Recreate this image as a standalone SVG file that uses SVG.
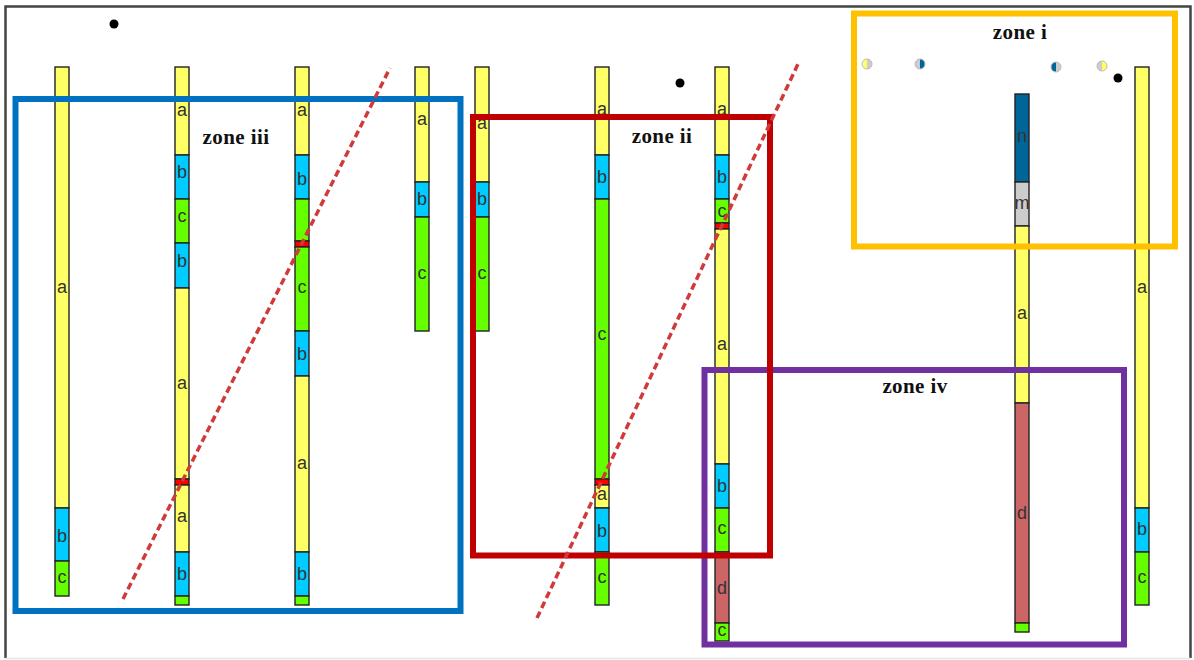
<svg xmlns="http://www.w3.org/2000/svg" width="1194" height="660" viewBox="0 0 1194 660">
  <style>
    .seg { stroke: #222; stroke-width: 1.4; }
    .ya { fill: #FFFF66; }
    .yb { fill: #00CCFF; }
    .yc { fill: #66FF00; }
    .yd { fill: #CC6666; }
    .ym { fill: #CCCCCC; }
    .yn { fill: #006699; }
    .yr { fill: #FF0000; }
    .lbl { font-family: "Liberation Sans", Arial, sans-serif; font-size: 18px; fill: #333; text-anchor: middle; }
    .zone { fill: none; stroke-width: 6; }
    .ztitle { font-family: "Liberation Serif", "Times New Roman", serif; font-weight: bold; font-size: 21px; letter-spacing: 0.4px; fill: #111; text-anchor: middle; }
    .fault { fill: none; stroke: #D03A3A; stroke-width: 3.5; stroke-dasharray: 7 4; }
    .dot { fill: #000; }
    .half { stroke: #BBBBBB; stroke-width: 1; }
  </style>

  <rect x="0" y="0" width="1194" height="660" fill="#fff"/>
  <!-- outer frame -->
  <path d="M5.5 658 V6.5 H1190.5 V658" fill="none" stroke="#444" stroke-width="2.5"/>
  <line x1="5" y1="658.5" x2="1191" y2="658.5" stroke="#E6E6E6" stroke-width="1.5"/>

  <!-- markers -->
  <g id="dots">
    <circle class="dot" cx="114" cy="24" r="4.5"/>
    <circle class="dot" cx="680" cy="83" r="4.5"/>
    <circle class="dot" cx="1118" cy="78" r="4.5"/>
  </g>
  <g id="half-circles">
    <path d="M867 59 A5 5 0 0 0 867 69 Z" fill="#FFFF66"/><path d="M867 59 A5 5 0 0 1 867 69 Z" fill="#CCCCCC"/><circle class="half" cx="867" cy="64" r="5" fill="none"/>
    <path d="M920 59 A5 5 0 0 0 920 69 Z" fill="#CCCCCC"/><path d="M920 59 A5 5 0 0 1 920 69 Z" fill="#006699"/><circle class="half" cx="920" cy="64" r="5" fill="none"/>
    <path d="M1056 62 A5 5 0 0 0 1056 72 Z" fill="#006699"/><path d="M1056 62 A5 5 0 0 1 1056 72 Z" fill="#CCCCCC"/><circle class="half" cx="1056" cy="67" r="5" fill="none"/>
    <path d="M1102 61 A5 5 0 0 0 1102 71 Z" fill="#CCCCCC"/><path d="M1102 61 A5 5 0 0 1 1102 71 Z" fill="#FFFF66"/><circle class="half" cx="1102" cy="66" r="5" fill="none"/>
  </g>

  <!-- well columns -->
  <g id="col1">
    <rect class="seg ya" x="55" y="67" width="14" height="441"/>
    <rect class="seg yb" x="55" y="508" width="14" height="53"/>
    <rect class="seg yc" x="55" y="561" width="14" height="35"/>
    <text class="lbl" x="62" y="293">a</text>
    <text class="lbl" x="62" y="542">b</text>
    <text class="lbl" x="62" y="583">c</text>
  </g>
  <g id="col2">
    <rect class="seg ya" x="175" y="67" width="14" height="88"/>
    <rect class="seg yb" x="175" y="155" width="14" height="44"/>
    <rect class="seg yc" x="175" y="199" width="14" height="44"/>
    <rect class="seg yb" x="175" y="243" width="14" height="45"/>
    <rect class="seg ya" x="175" y="288" width="14" height="191"/>
    <rect class="seg yr" x="175" y="479" width="14" height="6"/>
    <rect class="seg ya" x="175" y="485" width="14" height="67"/>
    <rect class="seg yb" x="175" y="552" width="14" height="44"/>
    <rect class="seg yc" x="175" y="596" width="14" height="9"/>
    <text class="lbl" x="182" y="116">a</text>
    <text class="lbl" x="182" y="178">b</text>
    <text class="lbl" x="182" y="222">c</text>
    <text class="lbl" x="182" y="267">b</text>
    <text class="lbl" x="182" y="389">a</text>
    <text class="lbl" x="182" y="522">a</text>
    <text class="lbl" x="182" y="580">b</text>
  </g>
  <g id="col3">
    <rect class="seg ya" x="295" y="67" width="14" height="88"/>
    <rect class="seg yb" x="295" y="155" width="14" height="44"/>
    <rect class="seg yc" x="295" y="199" width="14" height="42"/>
    <rect class="seg yr" x="295" y="241" width="14" height="6"/>
    <rect class="seg yc" x="295" y="247" width="14" height="84"/>
    <rect class="seg yb" x="295" y="331" width="14" height="45"/>
    <rect class="seg ya" x="295" y="376" width="14" height="176"/>
    <rect class="seg yb" x="295" y="552" width="14" height="44"/>
    <rect class="seg yc" x="295" y="596" width="14" height="9"/>
    <text class="lbl" x="302" y="116">a</text>
    <text class="lbl" x="302" y="185">b</text>
    <text class="lbl" x="302" y="293">c</text>
    <text class="lbl" x="302" y="360">b</text>
    <text class="lbl" x="302" y="469">a</text>
    <text class="lbl" x="302" y="580">b</text>
  </g>
  <g id="col4">
    <rect class="seg ya" x="415" y="67" width="14" height="115"/>
    <rect class="seg yb" x="415" y="182" width="14" height="35"/>
    <rect class="seg yc" x="415" y="217" width="14" height="114"/>
    <text class="lbl" x="422" y="125">a</text>
    <text class="lbl" x="422" y="205">b</text>
    <text class="lbl" x="422" y="279">c</text>
  </g>
  <g id="col5">
    <rect class="seg ya" x="475" y="67" width="14" height="115"/>
    <rect class="seg yb" x="475" y="182" width="14" height="35"/>
    <rect class="seg yc" x="475" y="217" width="14" height="114"/>
    <text class="lbl" x="482" y="129">a</text>
    <text class="lbl" x="482" y="205">b</text>
    <text class="lbl" x="482" y="279">c</text>
  </g>
  <g id="col6">
    <rect class="seg ya" x="595" y="67" width="14" height="88"/>
    <rect class="seg yb" x="595" y="155" width="14" height="44"/>
    <rect class="seg yc" x="595" y="199" width="14" height="280"/>
    <rect class="seg yr" x="595" y="479" width="14" height="6"/>
    <rect class="seg ya" x="595" y="485" width="14" height="23"/>
    <rect class="seg yb" x="595" y="508" width="14" height="44"/>
    <rect class="seg yc" x="595" y="552" width="14" height="53"/>
    <text class="lbl" x="602" y="115">a</text>
    <text class="lbl" x="602" y="183">b</text>
    <text class="lbl" x="602" y="340">c</text>
    <text class="lbl" x="602" y="500">a</text>
    <text class="lbl" x="602" y="537">b</text>
    <text class="lbl" x="602" y="583">c</text>
  </g>
  <g id="col7">
    <rect class="seg ya" x="715" y="67" width="14" height="88"/>
    <rect class="seg yb" x="715" y="155" width="14" height="44"/>
    <rect class="seg yc" x="715" y="199" width="14" height="24"/>
    <rect class="seg yr" x="715" y="223" width="14" height="6"/>
    <rect class="seg ya" x="715" y="229" width="14" height="235"/>
    <rect class="seg yb" x="715" y="464" width="14" height="44"/>
    <rect class="seg yc" x="715" y="508" width="14" height="44"/>
    <rect class="seg yd" x="715" y="552" width="14" height="71"/>
    <rect class="seg yc" x="715" y="623" width="14" height="18"/>
    <text class="lbl" x="722" y="115">a</text>
    <text class="lbl" x="722" y="183">b</text>
    <text class="lbl" x="722" y="217">c</text>
    <text class="lbl" x="722" y="350">a</text>
    <text class="lbl" x="722" y="492">b</text>
    <text class="lbl" x="722" y="534">c</text>
    <text class="lbl" x="722" y="594">d</text>
    <text class="lbl" x="722" y="636">c</text>
  </g>
  <g id="col8">
    <rect class="seg yn" x="1015" y="94" width="14" height="88"/>
    <rect class="seg ym" x="1015" y="182" width="14" height="44"/>
    <rect class="seg ya" x="1015" y="226" width="14" height="177"/>
    <rect class="seg yd" x="1015" y="403" width="14" height="220"/>
    <rect class="seg yc" x="1015" y="623" width="14" height="9"/>
    <text class="lbl" x="1022" y="142">n</text>
    <text class="lbl" x="1022" y="209">m</text>
    <text class="lbl" x="1022" y="319">a</text>
    <text class="lbl" x="1022" y="519">d</text>
  </g>
  <g id="col9">
    <rect class="seg ya" x="1135" y="67" width="14" height="441"/>
    <rect class="seg yb" x="1135" y="508" width="14" height="44"/>
    <rect class="seg yc" x="1135" y="552" width="14" height="53"/>
    <text class="lbl" x="1142" y="293">a</text>
    <text class="lbl" x="1142" y="535">b</text>
    <text class="lbl" x="1142" y="583">c</text>
  </g>

  <!-- zone outlines -->
  <g id="zone-iii">
    <rect class="zone" x="15.5" y="99" width="445" height="512" stroke="#0070C0"/>
    <text class="ztitle" x="236" y="144">zone iii</text>
  </g>
  <g id="zone-iv">
    <rect class="zone" x="704.5" y="370" width="419.5" height="274.5" stroke="#7030A0"/>
    <text class="ztitle" x="915" y="393">zone iv</text>
  </g>
  <g id="zone-ii">
    <rect class="zone" x="473" y="117" width="297" height="438.5" stroke="#C00000"/>
    <text class="ztitle" x="662" y="143">zone ii</text>
  </g>
  <g id="zone-i">
    <rect class="zone" x="854" y="13.5" width="321" height="233" stroke="#FFC000"/>
    <text class="ztitle" x="1020" y="39">zone i</text>
  </g>

  <!-- dashed fault traces -->
  <g id="connectors">
    <line class="fault" x1="123" y1="599" x2="390" y2="68"/>
    <line class="fault" x1="537" y1="618" x2="798" y2="64"/>
  </g>
</svg>
